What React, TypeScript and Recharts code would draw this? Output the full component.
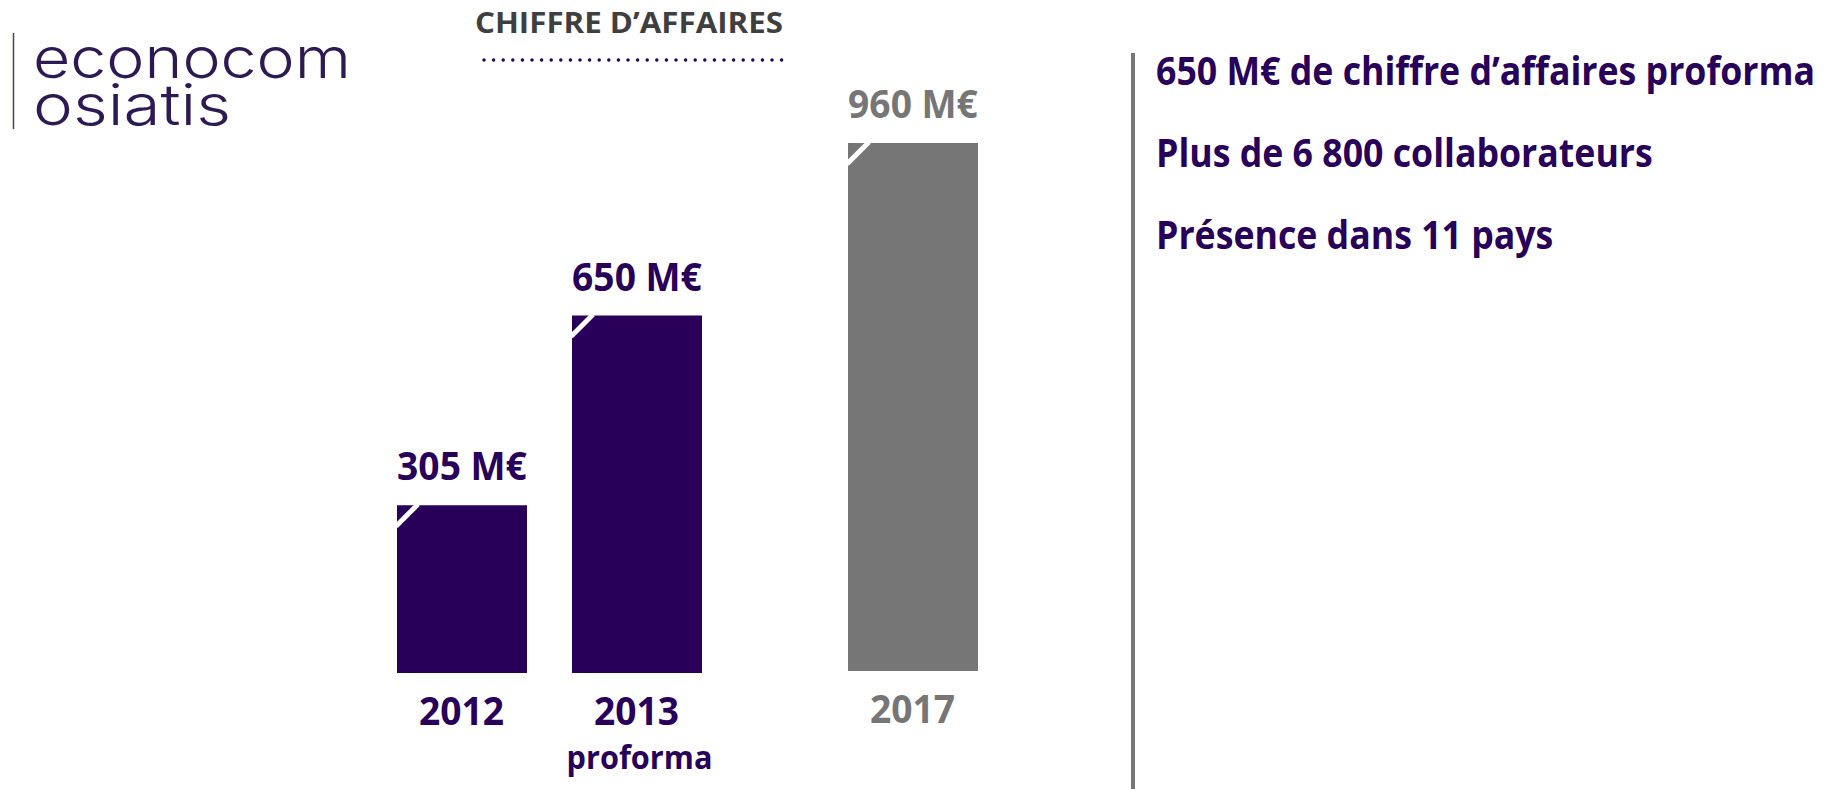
import React from 'react';
import { BarChart, Bar, XAxis, YAxis, LabelList } from 'recharts';

// ---- data ----
const years = ['2012', '2013', '2017'];
const revenue = [305, 650, 960];
const valueLabels = ['305 M€', '650 M€', '960 M€'];
const yearNotes = ['', 'proforma', ''];
const highlights = [
  '650 M€ de chiffre d’affaires proforma',
  'Plus de 6 800 collaborateurs',
  'Présence dans 11 pays',
];
const chartTitle = 'CHIFFRE D’AFFAIRES';
const logoLines = ['econocom', 'osiatis'];

const PURPLE = '#28005A';
const GRAY = '#767676';
const FONT = "'Open Sans', 'Liberation Sans', sans-serif";

const rows = years.map((y, i) => ({ year: y, value: revenue[i], label: valueLabels[i], note: yearNotes[i] }));
const achieved = rows.slice(0, 2);
const target = rows.slice(2);

const NotchedBar = (props: any) => {
  const { x, y, width, height, fill } = props;
  if (!width || !height) return null;
  return (
    <g>
      <rect x={x} y={y} width={width} height={height} fill={fill} />
      <line x1={x - 1} y1={y + 21} x2={x + 21} y2={y - 1} stroke="#ffffff" strokeWidth={5} />
    </g>
  );
};

const makeValueLabel = (color: string) => (props: any) => {
  const { x, y, width, value } = props;
  const cx = x + width / 2;
  const by = y - 25;
  return (
    <text transform={`translate(${cx},${by}) scale(0.93,1)`} textAnchor="middle" fill={color}
      style={{ fontFamily: FONT, fontWeight: 700, fontSize: 40 }}>
      {value}
    </text>
  );
};

const makeTick = (color: string) => (props: any) => {
  const { x, y, payload } = props;
  const row = rows.find((r) => r.year === payload.value);
  return (
    <g>
      <text transform={`translate(${x},${y + 52}) scale(0.93,1)`} textAnchor="middle" fill={color}
        style={{ fontFamily: FONT, fontWeight: 700, fontSize: 40 }}>
        {payload.value}
      </text>
      {row && row.note ? (
        <text transform={`translate(${x + 3},${y + 96}) scale(0.93,1)`} textAnchor="middle" fill={color}
          style={{ fontFamily: FONT, fontWeight: 700, fontSize: 33 }}>
          {row.note}
        </text>
      ) : null}
    </g>
  );
};

const Y_DOMAIN: [number, number] = [0, 1000];
const TOP_ROOM = 100;

export default function App() {
  return (
    <div style={{ position: 'absolute', left: 0, top: 0, width: 1848, height: 789, background: '#ffffff', overflow: 'hidden' }}>
      <svg width={1848} height={789} style={{ position: 'absolute', left: 0, top: 0 }}>
        {/* logo */}
        <line x1={13.5} y1={33} x2={13.5} y2={129} stroke="#4a3f63" strokeWidth={1.5} />
        <text x={33} y={78} fill="#2E1A52" textLength={318} lengthAdjust="spacingAndGlyphs"
          style={{ fontFamily: "Inter, 'Noto Sans', sans-serif", fontWeight: 300, fontSize: 56 }}>
          {logoLines[0]}
        </text>
        <text x={33} y={125} fill="#2E1A52" textLength={198} lengthAdjust="spacingAndGlyphs"
          style={{ fontFamily: "Inter, 'Noto Sans', sans-serif", fontWeight: 300, fontSize: 56 }}>
          {logoLines[1]}
        </text>
        {/* title */}
        <text x={475} y={33} fill="#3f3f3f" textLength={308} lengthAdjust="spacingAndGlyphs"
          style={{ fontFamily: FONT, fontWeight: 700, fontSize: 28 }}>
          {chartTitle}
        </text>
        <line x1={484} y1={60} x2={783} y2={60} stroke={PURPLE} strokeWidth={3.5}
          strokeLinecap="round" strokeDasharray="0 9.6" />
        {/* separator */}
        <rect x={1131} y={53} width={4} height={736} fill="#777777" />
        {/* highlights */}
        {highlights.map((t, i) => (
          <text key={t} transform={`translate(1156,${85 + i * 82}) scale(0.915,1)`} fill={PURPLE}
            style={{ fontFamily: FONT, fontWeight: 700, fontSize: 39 }}>
            {t}
          </text>
        ))}
      </svg>

      <div style={{ position: 'absolute', left: 374, top: 123 - TOP_ROOM }}>
        <BarChart width={350} height={666 + TOP_ROOM} data={achieved} margin={{ top: TOP_ROOM, right: 0, bottom: 0, left: 0 }}>
          <XAxis dataKey="year" axisLine={false} tickLine={false} tickSize={0} tickMargin={0}
            height={116} interval={0} tick={makeTick(PURPLE)} />
          <YAxis hide domain={Y_DOMAIN} />
          <Bar dataKey="value" fill={PURPLE} barSize={130} isAnimationActive={false} shape={NotchedBar}>
            <LabelList dataKey="label" content={makeValueLabel(PURPLE)} />
          </Bar>
        </BarChart>
      </div>

      <div style={{ position: 'absolute', left: 825, top: 121 - TOP_ROOM }}>
        <BarChart width={175} height={666 + TOP_ROOM} data={target} margin={{ top: TOP_ROOM, right: 0, bottom: 0, left: 0 }}>
          <XAxis dataKey="year" axisLine={false} tickLine={false} tickSize={0} tickMargin={0}
            height={116} interval={0} tick={makeTick(GRAY)} />
          <YAxis hide domain={Y_DOMAIN} />
          <Bar dataKey="value" fill={GRAY} barSize={130} isAnimationActive={false} shape={NotchedBar}>
            <LabelList dataKey="label" content={makeValueLabel(GRAY)} />
          </Bar>
        </BarChart>
      </div>
    </div>
  );
}
